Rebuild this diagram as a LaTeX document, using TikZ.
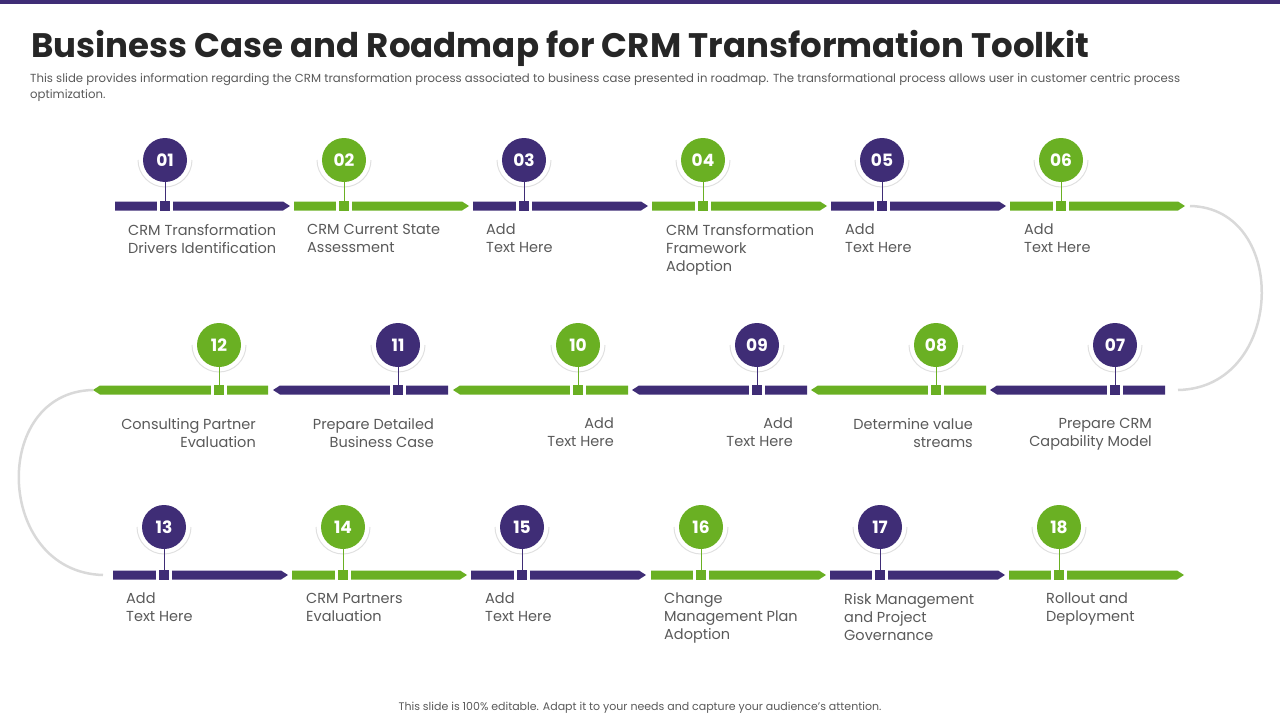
\documentclass[tikz,border=0pt]{standalone}
\usepackage{fontspec}
\setmainfont{Poppins}
\definecolor{pur}{HTML}{3F2D76}
\definecolor{grn}{HTML}{6AB023}
\definecolor{txt}{HTML}{595959}
\begin{document}
\begin{tikzpicture}[x=1pt,y=-1pt,
  num/.style={circle,minimum size=44pt,inner sep=0pt,text=white,font=\fontsize{17}{17}\selectfont\bfseries},
  lbl/.style={text=txt,font=\fontsize{14.5}{18}\selectfont,inner sep=0pt,align=left,anchor=north west},
  lblr/.style={lbl,align=right,anchor=north east}]
\useasboundingbox (0,0) rectangle (1280,720);
\fill[pur] (0,0) rectangle (1280,4);
\node[anchor=west,font=\fontsize{34}{34}\selectfont\bfseries,text=black!85,inner sep=0pt] (title) at (31,48) {Business Case and Roadmap for CRM Transformation Toolkit};
\node[anchor=north west,text width=1150pt,align=justify,font=\fontsize{11.7}{16}\selectfont,text=txt,inner sep=0pt] (sub) at (30,73) {This slide provides information regarding the CRM transformation process associated to business case presented in roadmap. The transformational process allows user in customer centric process optimization.};
\node[font=\fontsize{11}{11}\selectfont,text=txt] (foot) at (640,708) {This slide is 100\% editable. Adapt it to your needs and capture your audience's attention.};
% connectors
\coordinate (r1e) at (1190,206); \coordinate (r2s) at (1178,390);
\coordinate (r2e) at (93,390); \coordinate (r3s) at (103,575);
\draw[black!15,line width=2.5pt] (r1e) .. controls (1290,208) and (1285,388) .. (r2s);
\draw[black!15,line width=2.5pt] (r2e) .. controls (-10,392) and (-5,572) .. (r3s);
\newcommand{\stp}[8]{%
  \ifnum#5=1
    \fill[#4] (#2,#3-4.5) -- (#2+168,#3-4.5) -- (#2+175,#3) -- (#2+168,#3+4.5) -- (#2,#3+4.5) -- cycle;
  \else
    \fill[#4] (#2+175,#3-4.5) -- (#2+7,#3-4.5) -- (#2,#3) -- (#2+7,#3+4.5) -- (#2+175,#3+4.5) -- cycle;
  \fi
  \draw[black!12,line width=1pt] (#6-27,#7) arc[start angle=180,end angle=0,radius=27];
  \node[num,fill=#4] (#1) at (#6,#7) {#8};
  \fill[white] (#6-8,#3-8) rectangle (#6+8,#3+8);
  \node[fill=#4,minimum size=10pt,inner sep=0pt] (#1s) at (#6,#3) {};
  \draw[#4,line width=1pt] (#1) -- (#1s);
}
\stp{s1}{115}{206}{pur}{1}{165}{160}{01}
\stp{s2}{294}{206}{grn}{1}{344}{160}{02}
\stp{s3}{473}{206}{pur}{1}{524}{160}{03}
\stp{s4}{652}{206}{grn}{1}{703}{160}{04}
\stp{s5}{831}{206}{pur}{1}{882}{160}{05}
\stp{s6}{1010}{206}{grn}{1}{1061}{160}{06}
\stp{s7}{990}{390}{pur}{0}{1115}{345}{07}
\stp{s8}{811}{390}{grn}{0}{936}{345}{08}
\stp{s9}{632}{390}{pur}{0}{757}{345}{09}
\stp{s10}{453}{390}{grn}{0}{578}{345}{10}
\stp{s11}{273}{390}{pur}{0}{398}{345}{11}
\stp{s12}{93}{390}{grn}{0}{219}{345}{12}
\stp{s13}{113}{575}{pur}{1}{164}{527}{13}
\stp{s14}{292}{575}{grn}{1}{343}{527}{14}
\stp{s15}{471}{575}{pur}{1}{522}{527}{15}
\stp{s16}{651}{575}{grn}{1}{701}{527}{16}
\stp{s17}{830}{575}{pur}{1}{880}{527}{17}
\stp{s18}{1009}{575}{grn}{1}{1059}{527}{18}
\node[lbl] (t1) at (128,224) {CRM Transformation\\Drivers Identification};
\node[lbl] (t2) at (307,224) {CRM Current State\\Assessment};
\node[lbl] (t3) at (486,224) {Add\\Text Here};
\node[lbl] (t4) at (666,224) {CRM Transformation\\Framework\\Adoption};
\node[lbl] (t5) at (845,224) {Add\\Text Here};
\node[lbl] (t6) at (1024,224) {Add\\Text Here};
\node[lblr] (t7) at (1152,418) {Prepare CRM\\Capability Model};
\node[lblr] (t8) at (973,418) {Determine value\\streams};
\node[lblr] (t9) at (793,418) {Add\\Text Here};
\node[lblr] (t10) at (614,418) {Add\\Text Here};
\node[lblr] (t11) at (434,418) {Prepare Detailed\\Business Case};
\node[lblr] (t12) at (256,418) {Consulting Partner\\Evaluation};
\node[lbl] (t13) at (126,593) {Add\\Text Here};
\node[lbl] (t14) at (306,593) {CRM Partners\\Evaluation};
\node[lbl] (t15) at (485,593) {Add\\Text Here};
\node[lbl] (t16) at (664,593) {Change\\Management Plan\\Adoption};
\node[lbl] (t17) at (844,593) {Risk Management\\and Project\\Governance};
\node[lbl] (t18) at (1046,593) {Rollout and\\Deployment};
\end{tikzpicture}
\end{document}
